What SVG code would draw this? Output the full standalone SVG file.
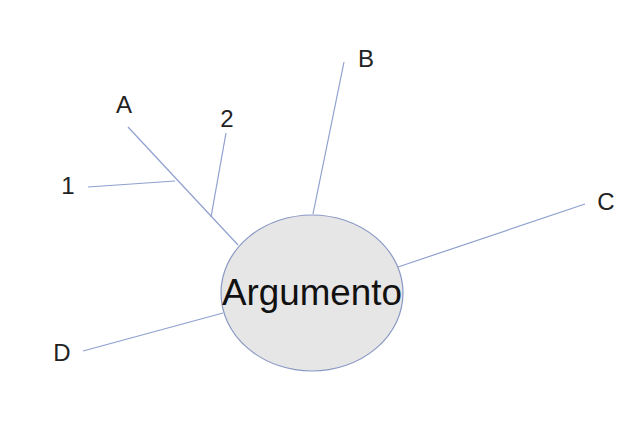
<svg xmlns="http://www.w3.org/2000/svg" width="640" height="425" viewBox="0 0 640 425">
<style>
.c{stroke:#8fa0cf;stroke-width:1.2;fill:none}
.l{font-family:"Liberation Sans","DejaVu Sans",sans-serif;font-size:24px;fill:#222;text-anchor:middle}
.m{font-family:"Liberation Sans","DejaVu Sans",sans-serif;font-size:36px;fill:#111;text-anchor:middle}
</style>
<rect width="640" height="425" fill="#fff"/>
<g id="connectors">
<line class="c" x1="128" y1="127" x2="238" y2="245"/>
<line class="c" x1="88" y1="187" x2="175" y2="181"/>
<line class="c" x1="226" y1="133" x2="211" y2="217"/>
<line class="c" x1="344" y1="62" x2="313" y2="214"/>
<line class="c" x1="585" y1="204" x2="398" y2="267"/>
<line class="c" x1="83" y1="351" x2="223" y2="313"/>
</g>
<g id="argumento">
<ellipse cx="312" cy="293" rx="91" ry="78" fill="#e6e6e6" stroke="#8a98c4" stroke-width="1.2"/>
<text class="m" x="312" y="305" textLength="180" lengthAdjust="spacingAndGlyphs">Argumento</text>
</g>
<g id="A"><text class="l" x="124" y="113">A</text></g>
<g id="B"><text class="l" x="366" y="67">B</text></g>
<g id="C"><text class="l" x="606" y="210">C</text></g>
<g id="D"><text class="l" x="62" y="361">D</text></g>
<g id="n1"><text class="l" x="68" y="194">1</text></g>
<g id="n2"><text class="l" x="227" y="127">2</text></g>
</svg>
